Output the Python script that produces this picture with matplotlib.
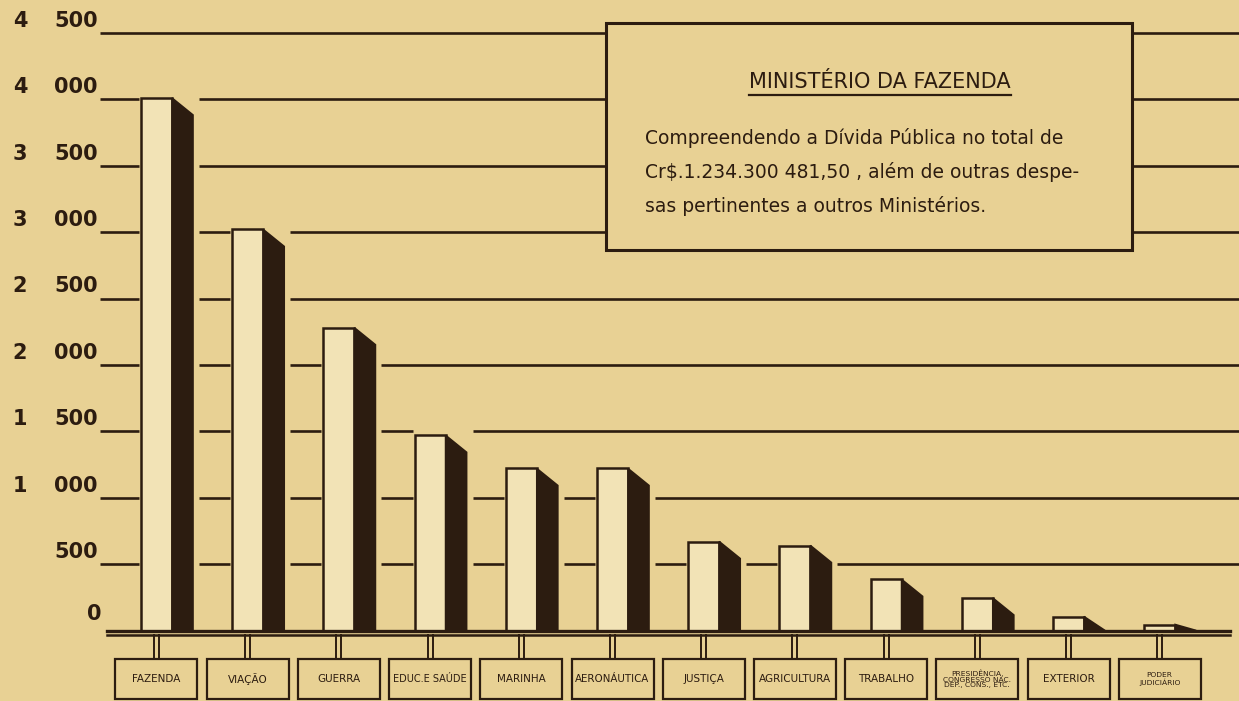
import matplotlib
matplotlib.use("Agg")
import matplotlib.pyplot as plt
from matplotlib.patches import Polygon, Rectangle

# --- data (milhões de Cr$) -------------------
categories = ["FAZENDA", "VIAÇÃO", "GUERRA", "EDUC.E SAÚDE", "MARINHA",
              "AERONÁUTICA", "JUSTIÇA", "AGRICULTURA", "TRABALHO",
              "PRESIDÊNCIA,\nCONGRESSO NAC.\nDEP., CONS., ETC.",
              "EXTERIOR", "PODER\nJUDICIÁRIO"]
values = [4010, 3020, 2280, 1470, 1220, 1220, 670, 640, 385, 245, 105, 45]
y_ticks = [0, 500, 1000, 1500, 2000, 2500, 3000, 3500, 4000, 4500]

note_title = "MINISTÉRIO DA FAZENDA"
note_lines = ["Compreendendo a Dívida Pública no total de",
              "Cr$.1.234.300 481,50 , além de outras despe-",
              "sas pertinentes a outros Ministérios."]

# --- look -------------------------------------------------------------------
BG = "#e8d194"
FACE = "#f2e3b6"
INK = "#2c1c10"
W, H = 1239, 701

# pixel calibration of the scan: first bar centre, bar pitch, baseline, scale
X0_PX, PITCH_PX = 156.5, 91.2
Y0_PX, PX_PER_UNIT = 630.5, 0.1328


def to_x(px):
    return (px - X0_PX) / PITCH_PX


def to_y(py):
    return (Y0_PX - py) / PX_PER_UNIT


def dx(px):
    return px / PITCH_PX


def dy(px):
    return px / PX_PER_UNIT


fig = plt.figure(figsize=(W / 100, H / 100), dpi=100, facecolor=BG)
ax = fig.add_axes([0, 0, 1, 1])
ax.set_xlim(to_x(0), to_x(W))
ax.set_ylim(to_y(H), to_y(0))
ax.set_facecolor(BG)
ax.axis("off")

FACE_W = dx(31)
SHADE_W = dx(21)
DROP = dy(17)

# gridlines, broken where a bar reaches up to (or past) them
x_start, x_end = to_x(100), to_x(W)
for v in y_ticks[1:]:
    cuts = []
    for i, val in enumerate(values):
        if val > v - dy(10):
            cuts.append((i - FACE_W / 2 - dx(2), i + FACE_W / 2 + SHADE_W + dx(6)))
    pos = x_start
    for a, b in sorted(cuts):
        if a > pos:
            ax.plot([pos, a], [v, v], color=INK, lw=1.9, zorder=1, solid_capstyle="butt")
        pos = max(pos, b)
    if pos < x_end:
        ax.plot([pos, x_end], [v, v], color=INK, lw=1.9, zorder=1, solid_capstyle="butt")

# bars: light front face + dark slanted side
for i, val in enumerate(values):
    left = i - FACE_W / 2
    right = i + FACE_W / 2
    ax.add_patch(Rectangle((left, 0), FACE_W, val, facecolor=FACE,
                           edgecolor=INK, lw=1.8, zorder=4))
    side = [(right, val), (right + SHADE_W, max(val - DROP, 0)),
            (right + SHADE_W, 0), (right, 0)]
    ax.add_patch(Polygon(side, closed=True, facecolor=INK, edgecolor=INK,
                         lw=1.2, zorder=4))

# baseline (double rail)
ax.plot([to_x(107), to_x(1230)], [0, 0], color=INK, lw=2.4, zorder=5)
ax.plot([to_x(107), to_x(1230)], [to_y(635), to_y(635)], color=INK, lw=1.8, zorder=5)

# stems and label boxes
BOX_W = dx(82)
box_top, box_bot = to_y(659), to_y(699)
labels = []
for i, cat in enumerate(categories):
    for off in (-dx(2.5), dx(2.5)):
        ax.plot([i + off, i + off], [to_y(635), box_top], color=INK, lw=1.4, zorder=5)
    ax.add_patch(Rectangle((i - BOX_W / 2, box_bot), BOX_W, box_top - box_bot,
                           facecolor=BG, edgecolor=INK, lw=1.6, zorder=5))
    n_lines = cat.count("\n") + 1
    t = ax.text(i, (box_top + box_bot) / 2, cat, ha="center", va="center",
                fontsize=7.5 if n_lines == 1 else 5.4, color=INK,
                linespacing=0.95, zorder=6)
    labels.append(t)

# y-axis labels: thousands digit set apart from the hundreds
for v in y_ticks:
    th, rest = divmod(v, 1000)
    if v == 0:
        ax.text(to_x(102), v + dy(6), "0", ha="right", va="bottom",
                fontsize=15, fontweight="bold", color=INK)
        continue
    if th:
        ax.text(to_x(20), v + dy(2), str(th), ha="center", va="bottom",
                fontsize=15, fontweight="bold", color=INK)
    ax.text(to_x(98), v + dy(2), "%03d" % rest, ha="right", va="bottom",
            fontsize=15, fontweight="bold", color=INK)

# note box
bx0, bx1, by0, by1 = to_x(606), to_x(1132), to_y(250), to_y(23)
ax.add_patch(Rectangle((bx0, by0), bx1 - bx0, by1 - by0, facecolor=BG,
                       edgecolor=INK, lw=2.2, zorder=3))
title = ax.text(to_x(880), to_y(82), note_title, ha="center", va="center",
                fontsize=15, color=INK, zorder=6)
for k, line in enumerate(note_lines):
    ax.text(to_x(645), to_y(138 + 34 * k), line, ha="left", va="center",
            fontsize=13.5, color=INK, zorder=6)

# shrink label text that would spill out of its box, underline the title
fig.canvas.draw()
r = fig.canvas.get_renderer()
box_px = 82 - 8
for t in labels:
    w = t.get_window_extent(r).width
    if w > box_px:
        t.set_fontsize(t.get_fontsize() * box_px / w)
bb = title.get_window_extent(r)
ax.plot([to_x(bb.x0), to_x(bb.x1)], [to_y(95), to_y(95)], color=INK, lw=1.6, zorder=6)

fig.savefig("out.png", dpi=100, facecolor=BG)
